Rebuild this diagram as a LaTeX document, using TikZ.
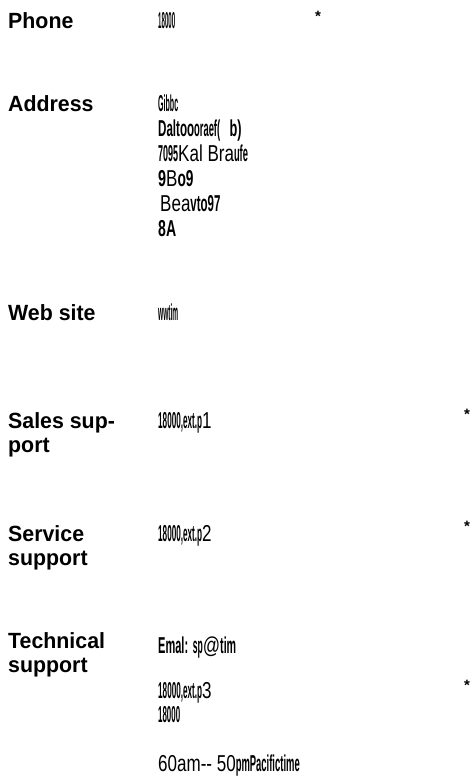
\documentclass[tikz,border=0pt]{standalone}
\usepackage{fontspec}
\usepackage{graphicx}
\setmainfont{Liberation Sans}
\newfontfamily\labfont[FakeStretch=0.97]{Liberation Sans}
\newfontfamily\valfont[FakeStretch=0.74]{Liberation Sans}
\newcommand{\bl}[2]{\resizebox{#1pt}{\height}{\bfseries #2}}
\begin{document}
\begin{tikzpicture}[x=1pt,y=-1pt,
  lab/.style={anchor=base west, inner sep=0pt, font=\labfont\bfseries\fontsize{22}{24}\selectfont},
  val/.style={anchor=base west, inner sep=0pt, font=\valfont\fontsize{23}{25}\selectfont},
  star/.style={inner sep=0pt, font=\bfseries\fontsize{15}{15}\selectfont}]
\useasboundingbox (0,0) rectangle (474,779);
% labels
\node[lab] (lphone) at (8,28) {Phone};
\node[lab] (laddr) at (8,111) {Address};
\node[lab] (lweb) at (8,320) {Web site};
\node[lab] (lsales1) at (8,428) {Sales sup-};
\node[lab] (lsales2) at (8,452) {port};
\node[lab] (lserv1) at (8,541) {Service};
\node[lab] (lserv2) at (8,565) {support};
\node[lab] (ltech1) at (8,648) {Technical};
\node[lab] (ltech2) at (8,672) {support};
% values
\node[val] (vphone) at (158,28) {\bl{17}{18000}};
\node[val] (va1) at (158,111) {\bl{20}{Gibbc}};
\node[val] (va2) at (158,136) {\bl{36}{Daltoo}\bl{26}{oraef(}\ \ \bl{12}{b)}};
\node[val] (va3) at (158,161) {\bl{20}{7095}Kal Bra\bl{14}{ufe}};
\node[val] (va4) at (158,186) {\bl{8}{9}B\bl{16}{o9}};
\node[val] (va5) at (160,211) {Bea\bl{30}{vto97}};
\node[val] (va6) at (158,236) {\bl{18}{8A}};
\node[val] (vweb) at (158,320) {\bl{20}{wwtim}};
\node[val] (vsales) at (158,428) {\bl{44}{18000,ext.p}1};
\node[val] (vserv) at (158,541) {\bl{44}{18000,ext.p}2};
\node[val] (vt1) at (158,653) {\bl{30}{Emal:} \bl{10}{sp}@\bl{16}{tim}};
\node[val] (vt2) at (158,698) {\bl{44}{18000,ext.p}3};
\node[val] (vt3) at (158,722) {\bl{22}{18000}};
\node[val] (vt4) at (158,771) {60am-- 50\bl{64}{pmPacifictime}};
% asterisks
\node[star] (s1) at (318,16) {*};
\node[star] (s2) at (467,414) {*};
\node[star] (s3) at (467,526) {*};
\node[star] (s4) at (467,685) {*};
\end{tikzpicture}
\end{document}
